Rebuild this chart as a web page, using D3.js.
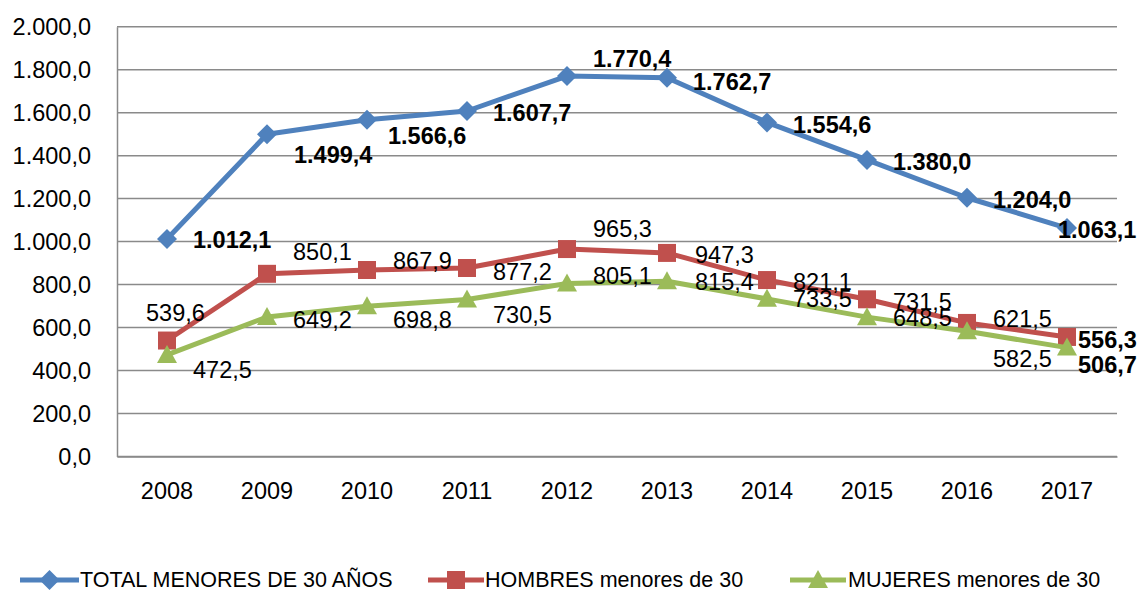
<!DOCTYPE html>
<html>
<head>
<meta charset="utf-8">
<script src="https://cdn.jsdelivr.net/npm/d3@7"></script>
<style>
  html, body { margin: 0; padding: 0; background: #fff; }
  svg { display: block; font-family: "Liberation Sans", Arial, sans-serif; }
</style>
</head>
<body>
<svg id="chart" width="1139" height="592"></svg>
<script>
// ---- data ----
const years = ["2008","2009","2010","2011","2012","2013","2014","2015","2016","2017"];
const total = [1012.1, 1499.4, 1566.6, 1607.7, 1770.4, 1762.7, 1554.6, 1380.0, 1204.0, 1063.1];
const hombres = [539.6, 850.1, 867.9, 877.2, 965.3, 947.3, 821.1, 731.5, 621.5, 556.3];
const mujeres = [472.5, 649.2, 698.8, 730.5, 805.1, 815.4, 733.5, 648.5, 582.5, 506.7];
const yTicks = [0, 200, 400, 600, 800, 1000, 1200, 1400, 1600, 1800, 2000];
const seriesNames = ["TOTAL MENORES DE 30 AÑOS", "HOMBRES menores de 30", "MUJERES menores de 30"];

// ---- layout (label offsets: [dx, dy] from the point) ----
const totalOffsets = [[26,1],[27,20],[21,16],[26,2],[26,-17],[26,4],[26,2],[26,2],[26,2],[-9,2]];
const hombresOffsets = [[-21,-28],[26,-22],[26,-9],[26,4],[26,-20],[28,2],[26,2],[26,2],[26,-4],[11,3]];
const mujeresOffsets = [[26,15],[26,3],[26,13],[26,15],[26,-8],[28,1],[26,0],[26,1],[26,27],[11,17]];

const svg = d3.select("#chart");
const plot = {left: 117, right: 1117, top: 26.7, bottom: 456.5};

const x = d3.scaleBand().domain(years).range([plot.left, plot.right]);
const y = d3.scaleLinear().domain([0, 2000]).range([plot.bottom, plot.top]);
const cx = d => x(d) + x.bandwidth() / 2;

const loc = d3.formatLocale({decimal: ",", thousands: ".", grouping: [3], currency: ["", ""]});
const fmt = loc.format(",.1f");

// gridlines
svg.append("g").selectAll("line").data(yTicks).join("line")
  .attr("x1", plot.left).attr("x2", plot.right)
  .attr("y1", d => y(d)).attr("y2", d => y(d))
  .attr("stroke", "#8a8a8a").attr("stroke-width", 1.5);

// y axis
const yAxis = svg.append("g").attr("transform", `translate(${plot.left},0)`)
  .call(d3.axisLeft(y).tickValues(yTicks).tickFormat(fmt).tickSize(0).tickPadding(26));
yAxis.select(".domain").attr("stroke", "#8a8a8a").attr("stroke-width", 1.5);
yAxis.selectAll("text").attr("font-size", 23.5).attr("fill", "#000")
  .attr("font-family", "Liberation Sans, Arial, sans-serif");

// x axis
const xAxis = svg.append("g").attr("transform", `translate(0,${plot.bottom})`)
  .call(d3.axisBottom(x).tickSize(0).tickPadding(26));
xAxis.select(".domain").attr("stroke", "#8a8a8a").attr("stroke-width", 1.5);
xAxis.selectAll("text").attr("font-size", 23.5).attr("fill", "#000")
  .attr("font-family", "Liberation Sans, Arial, sans-serif");

const colors = ["#4F81BD", "#C0504D", "#9BBB59"];
const seriesData = [total, hombres, mujeres];
const offsets = [totalOffsets, hombresOffsets, mujeresOffsets];

function markerPath(i) {
  if (i === 0) return "M0,-10L10,0L0,10L-10,0Z";
  if (i === 1) return "M-9,-9H9V9H-9Z";
  return "M0,-10L10,8H-10Z";
}

const line = d3.line().x((d, i) => cx(years[i])).y(d => y(d));

seriesData.forEach((vals, si) => {
  const g = svg.append("g");
  g.append("path").datum(vals).attr("d", line)
    .attr("fill", "none").attr("stroke", colors[si]).attr("stroke-width", 5)
    .attr("stroke-linejoin", "round");
  g.selectAll("path.m").data(vals).join("path").attr("class", "m")
    .attr("d", markerPath(si))
    .attr("transform", (d, i) => `translate(${cx(years[i])},${y(d)})`)
    .attr("fill", colors[si]);
});

// data labels (drawn on top)
seriesData.forEach((vals, si) => {
  svg.append("g").selectAll("text").data(vals).join("text")
    .attr("x", (d, i) => cx(years[i]) + offsets[si][i][0])
    .attr("y", (d, i) => y(d) + offsets[si][i][1])
    .attr("dy", "0.35em")
    .attr("font-size", 23.5)
    .attr("font-weight", (d, i) => (si === 0 || i === vals.length - 1) ? "bold" : "normal")
    .attr("fill", "#000")
    .text(d => fmt(d));
});

// legend
const legendItems = [
  {name: seriesNames[0], lx1: 20, lx2: 79, tx: 80},
  {name: seriesNames[1], lx1: 428, lx2: 484, tx: 485},
  {name: seriesNames[2], lx1: 790, lx2: 846, tx: 848}
];
const lg = svg.append("g");
legendItems.forEach((it, i) => {
  const ly = 580;
  lg.append("line").attr("x1", it.lx1).attr("x2", it.lx2).attr("y1", ly).attr("y2", ly)
    .attr("stroke", colors[i]).attr("stroke-width", 5);
  lg.append("path").attr("d", markerPath(i))
    .attr("transform", `translate(${(it.lx1 + it.lx2) / 2},${ly})`).attr("fill", colors[i]);
  lg.append("text").attr("x", it.tx).attr("y", ly).attr("dy", "0.33em")
    .attr("font-size", 21.5).attr("fill", "#000").text(it.name);
});
</script>
</body>
</html>
